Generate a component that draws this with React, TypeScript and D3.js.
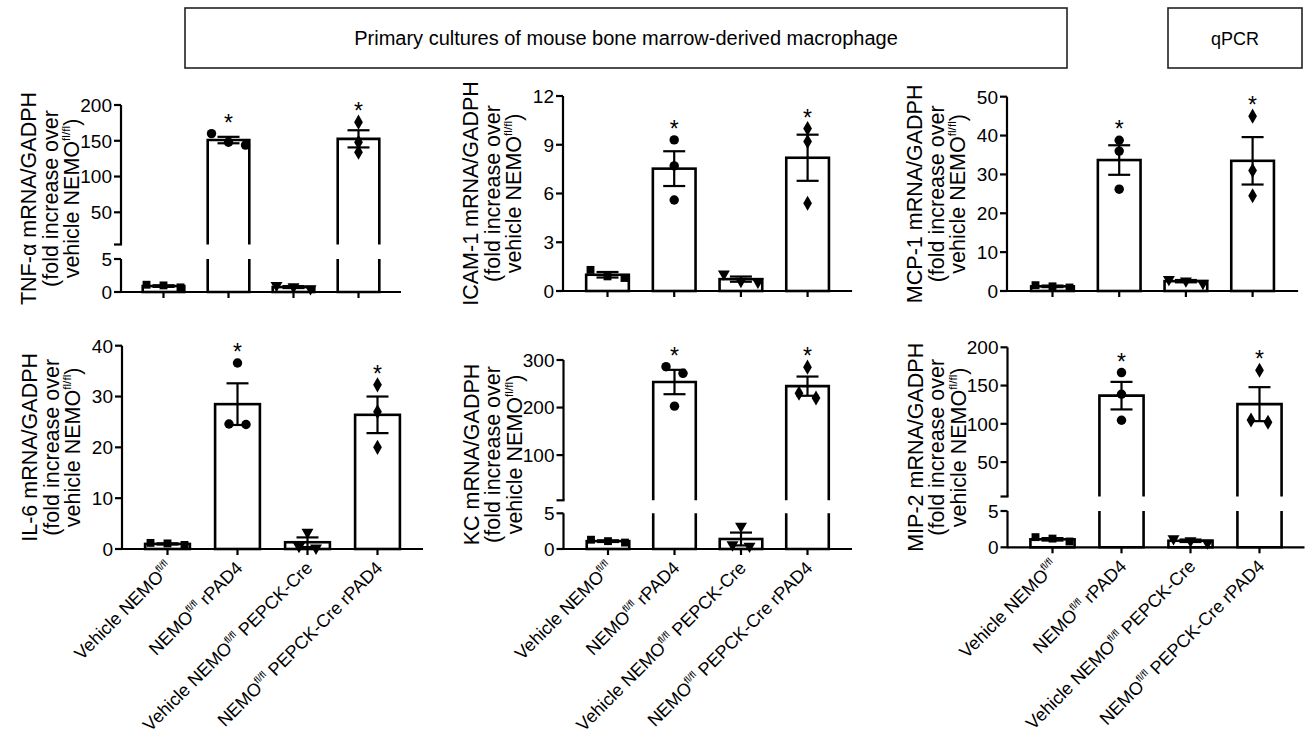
import React from "react";
import * as d3 from "d3";

// ---------- data ----------
const SUP = "fl/fl";
const groupPre = ["Vehicle NEMO", "NEMO", "Vehicle NEMO", "NEMO"];
const groupPost = ["", " rPAD4", " PEPCK-Cre", " PEPCK-Cre rPAD4"];
const groups = groupPre.map((p, i) => p + SUP + groupPost[i]);
const starred = [false, true, false, true];

const tnfPoints = [[0.7, 1.0, 1.1], [160, 144, 148], [0.5, 0.8, 1.0], [176, 148, 134]];
const tnfMeans = [0.9, 151, 0.75, 152.7];
const tnfSems = [0.12, 4.5, 0.15, 12];
const tnfLowerTicks = [0, 5];
const tnfUpperTicks = [50, 100, 150, 200];

const icamPoints = [[0.8, 1.3, 0.9], [9.3, 7.7, 5.6], [1.05, 0.6, 0.55], [10.0, 9.2, 5.4]];
const icamMeans = [1.0, 7.53, 0.73, 8.2];
const icamSems = [0.17, 1.07, 0.16, 1.42];
const icamTicks = [0, 3, 6, 9, 12];

const mcpPoints = [[0.9, 1.5, 1.2], [38.8, 36.0, 26.2], [3.0, 2.0, 2.6], [45, 31, 24.5]];
const mcpMeans = [1.2, 33.7, 2.53, 33.5];
const mcpSems = [0.2, 3.8, 0.3, 6.1];
const mcpTicks = [0, 10, 20, 30, 40, 50];

const il6Points = [[0.8, 1.2, 1.1], [36.6, 24.5, 24.6], [3.3, 0.5, 0.2], [32.3, 27, 20]];
const il6Means = [1.0, 28.5, 1.33, 26.4];
const il6Sems = [0.12, 4.1, 0.95, 3.6];
const il6Ticks = [0, 10, 20, 30, 40];

const kcPoints = [[0.9, 1.3, 1.1], [286, 272, 203], [3.2, 0.6, 0.4], [285, 230, 220]];
const kcMeans = [1.1, 253.7, 1.4, 245];
const kcSems = [0.12, 25.6, 0.9, 20.2];
const kcLowerTicks = [0, 5];
const kcUpperTicks = [100, 200, 300];

const mipPoints = [[0.8, 1.4, 1.2], [167, 138.6, 104.7], [1.2, 0.6, 0.9], [170, 105, 102]];
const mipMeans = [1.1, 136.8, 0.9, 125.7];
const mipSems = [0.17, 18, 0.17, 22.2];
const mipLowerTicks = [0, 5];
const mipUpperTicks = [50, 100, 150, 200];

// ---------- layout ----------
const FONT = "'Liberation Sans', Arial, Helvetica, sans-serif";

const panels = [
  { name: "TNF-α", points: tnfPoints, means: tnfMeans, sems: tnfSems, lowerTicks: tnfLowerTicks, upperTicks: tnfUpperTicks,
    brk: 5, max: 200, axisX: 121, first: 163.5, step: 65, top: 105, zero: 292, lowerTop: 259, upperBottom: 244.5, labels: false },
  { name: "ICAM-1", points: icamPoints, means: icamMeans, sems: icamSems, lowerTicks: icamTicks, upperTicks: [],
    brk: null, max: 12, axisX: 563, first: 607.5, step: 66.7, top: 96, zero: 291, labels: false },
  { name: "MCP-1", points: mcpPoints, means: mcpMeans, sems: mcpSems, lowerTicks: mcpTicks, upperTicks: [],
    brk: null, max: 50, axisX: 1007, first: 1052.5, step: 66.7, top: 96.7, zero: 291, labels: false },
  { name: "IL-6", points: il6Points, means: il6Means, sems: il6Sems, lowerTicks: il6Ticks, upperTicks: [],
    brk: null, max: 40, axisX: 122, first: 167.5, step: 70, top: 345.7, zero: 549, labels: true },
  { name: "KC", points: kcPoints, means: kcMeans, sems: kcSems, lowerTicks: kcLowerTicks, upperTicks: kcUpperTicks,
    brk: 5, max: 300, axisX: 563.5, first: 608, step: 66.5, top: 360, zero: 549, lowerTop: 513.3, upperBottom: 500.3, labels: true },
  { name: "MIP-2", points: mipPoints, means: mipMeans, sems: mipSems, lowerTicks: mipLowerTicks, upperTicks: mipUpperTicks,
    brk: 5, max: 200, axisX: 1007.5, first: 1052.5, step: 69, top: 347.3, zero: 547.3, lowerTop: 511, upperBottom: 496.5, labels: true },
];

const symbols = [d3.symbolSquare, d3.symbolCircle, d3.symbolTriangle, d3.symbolDiamond];
const symbolSizes = [62, 70, 62, 66];
const symbolRot = [0, 0, 180, 0];

// spread overlapping points sideways like a scatter dot plot
function jitter(ys: number[], gap = 9, spread = 17) {
  const order = ys.map((y, i) => i).sort((a, b) => ys[a] - ys[b]);
  const offsets = new Array(ys.length).fill(0);
  let cluster: number[] = [];
  const flush = () => {
    cluster.forEach((idx, k) => (offsets[idx] = (k - (cluster.length - 1) / 2) * spread));
    cluster = [];
  };
  order.forEach((idx) => {
    if (cluster.length && ys[idx] - ys[cluster[cluster.length - 1]] >= gap) flush();
    cluster.push(idx);
  });
  flush();
  return offsets;
}

function Label({ pre, post, ...rest }: any) {
  return (
    <text {...rest}>
      {pre}
      <tspan fontSize="0.55em" dy="-0.75em">{SUP}</tspan>
      <tspan dy="0.42em">{post}</tspan>
    </text>
  );
}

function Panel({ p }: any) {
  const x = d3.scalePoint<string>().domain(groups).range([p.first, p.first + 3 * p.step]);
  const bw = p.step * 0.64;
  const lower = d3.scaleLinear().domain([0, p.brk ?? p.max]).range([p.zero, p.brk ? p.lowerTop : p.top]);
  const upper = p.brk ? d3.scaleLinear().domain([p.brk, p.max]).range([p.upperBottom, p.top]) : null;
  const y = (v: number) => (upper && v > p.brk ? upper(v) : lower(v));
  const right = p.first + 3 * p.step + (p.first - p.axisX);
  const midY = (p.top + p.zero) / 2;
  const yLines = [`${p.name} mRNA/GADPH`, "(fold increase over"];

  return (
    <g>
      {/* bars */}
      {groups.map((g, i) => {
        const cx = x(g)!;
        const x0 = cx - bw / 2;
        const x1 = cx + bw / 2;
        const m = p.means[i];
        if (upper && m > p.brk) {
          return (
            <g key={g} fill="none" stroke="#000" strokeWidth={2.6}>
              <path d={`M${x0},${p.lowerTop}V${p.zero}H${x1}V${p.lowerTop}`} />
              <path d={`M${x0},${p.upperBottom}V${y(m)}H${x1}V${p.upperBottom}`} />
            </g>
          );
        }
        return <rect key={g} x={x0} y={y(m)} width={bw} height={p.zero - y(m)} fill="#fff" stroke="#000" strokeWidth={2.6} />;
      })}
      {/* error bars */}
      {groups.map((g, i) => {
        const cx = x(g)!;
        const hi = y(p.means[i] + p.sems[i]);
        const lo = y(p.means[i] - p.sems[i]);
        return (
          <g key={g} stroke="#000" strokeWidth={2.2}>
            <line x1={cx} x2={cx} y1={hi} y2={lo} />
            <line x1={cx - 11} x2={cx + 11} y1={hi} y2={hi} />
            <line x1={cx - 11} x2={cx + 11} y1={lo} y2={lo} />
          </g>
        );
      })}
      {/* points */}
      {groups.map((g, i) => {
        const cx = x(g)!;
        const ys = p.points[i].map((v: number) => y(v));
        const offs = jitter(ys);
        const path = d3.symbol(symbols[i], symbolSizes[i])()!;
        return ys.map((yy: number, k: number) => (
          <path key={g + k} d={path} fill="#000" transform={`translate(${cx + offs[k]},${yy}) rotate(${symbolRot[i]})`} />
        ));
      })}
      {/* stars */}
      {groups.map((g, i) => {
        if (!starred[i]) return null;
        const topY = Math.min(y(p.means[i] + p.sems[i]), ...p.points[i].map((v: number) => y(v)));
        return (
          <text key={g} x={x(g)} y={topY - 15 + 12} textAnchor="middle" fontSize={23} fontFamily={FONT}>*</text>
        );
      })}
      {/* x axis */}
      <g stroke="#000" strokeWidth={2.2}>
        <line x1={p.axisX} x2={right} y1={p.zero} y2={p.zero} />
        {groups.map((g) => (
          <line key={g} x1={x(g)} x2={x(g)} y1={p.zero} y2={p.zero + 6} />
        ))}
      </g>
      {/* y axis */}
      <g stroke="#000" strokeWidth={2.2}>
        <line x1={p.axisX} x2={p.axisX} y1={p.zero + 1} y2={p.brk ? p.lowerTop : p.top} />
        {upper && <line x1={p.axisX} x2={p.axisX} y1={p.upperBottom} y2={p.top} />}
        {upper && <line x1={p.axisX - 7} x2={p.axisX + 1} y1={p.upperBottom} y2={p.upperBottom} />}
        {p.lowerTicks.map((t: number) => (
          <line key={"l" + t} x1={p.axisX - 7} x2={p.axisX} y1={lower(t)} y2={lower(t)} />
        ))}
        {upper && p.upperTicks.map((t: number) => (
          <line key={"u" + t} x1={p.axisX - 7} x2={p.axisX} y1={upper(t)} y2={upper(t)} />
        ))}
      </g>
      <g fontFamily={FONT} fontSize={19} textAnchor="end">
        {p.lowerTicks.map((t: number) => (
          <text key={"l" + t} x={p.axisX - 9} y={lower(t)} dy="0.36em">{t}</text>
        ))}
        {upper && p.upperTicks.map((t: number) => (
          <text key={"u" + t} x={p.axisX - 9} y={upper(t)} dy="0.36em">{t}</text>
        ))}
      </g>
      {/* y title */}
      <g fontFamily={FONT} fontSize={21.5} textAnchor="middle">
        {yLines.map((l, k) => (
          <text key={k} transform={`translate(${p.axisX - 85 + k * 21.5},${midY}) rotate(-90)`}>{l}</text>
        ))}
        <Label pre="vehicle NEMO" post=")" transform={`translate(${p.axisX - 42},${midY}) rotate(-90)`} />
      </g>
      {/* x labels */}
      {p.labels && (
        <g fontFamily={FONT} fontSize={18} textAnchor="end">
          {groups.map((g, i) => (
            <Label key={g} pre={groupPre[i]} post={groupPost[i]}
              transform={`translate(${x(g)! + 6},${p.zero + 20}) rotate(-45)`} />
          ))}
        </g>
      )}
    </g>
  );
}

export default function App() {
  return (
    <svg width={1310} height={739} style={{ position: "absolute", left: 0, top: 0, background: "#fff" }}>
      <rect x={185} y={8} width={882} height={60} fill="#fff" stroke="#222" strokeWidth={1.6} />
      <text x={626} y={45} textAnchor="middle" fontFamily={FONT} fontSize={20}>
        Primary cultures of mouse bone marrow-derived macrophage
      </text>
      <rect x={1168} y={8} width={134} height={60} fill="#fff" stroke="#222" strokeWidth={1.6} />
      <text x={1235} y={45} textAnchor="middle" fontFamily={FONT} fontSize={18}>qPCR</text>
      {panels.map((p) => (
        <Panel key={p.name} p={p} />
      ))}
    </svg>
  );
}
